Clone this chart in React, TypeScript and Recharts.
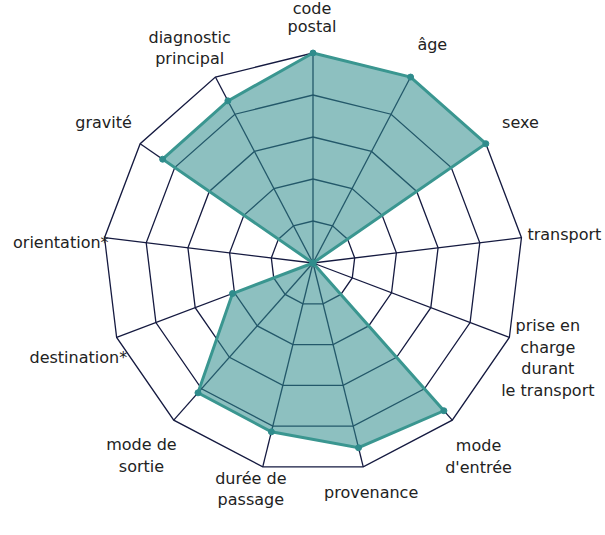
import { PolarAngleAxis, PolarGrid, PolarRadiusAxis, Radar, RadarChart } from "recharts";

const categories = [
  "code postal",
  "âge",
  "sexe",
  "transport",
  "prise en charge durant le transport",
  "mode d'entrée",
  "provenance",
  "durée de passage",
  "mode de sortie",
  "destination*",
  "orientation*",
  "gravité",
  "diagnostic principal",
];

const scores = [5, 5, 5, 0, 0, 4.7, 4.53, 4.14, 4.13, 2.05, 0, 4.35, 4.36];

const radiusTicks = [0, 1, 2, 3, 4, 5];

const data = categories.map((name, i) => ({ name, score: scores[i] }));

// how each label is broken into lines and nudged from its spoke end
const labelLayout: Record<
  string,
  { lines: string[]; anchor: "start" | "middle" | "end"; dx: number; dy: number; lh?: number }
> = {
  "code postal": { lines: ["code", "postal"], anchor: "middle", dx: -1, dy: -37, lh: 18 },
  "âge": { lines: ["âge"], anchor: "middle", dx: 18, dy: -26 },
  "sexe": { lines: ["sexe"], anchor: "middle", dx: 28, dy: -17 },
  "transport": { lines: ["transport"], anchor: "start", dx: -2, dy: -3 },
  "prise en charge durant le transport": {
    lines: ["prise en", "charge", "durant", "le transport"],
    anchor: "middle",
    dx: 31,
    dy: -15,
  },
  "mode d'entrée": { lines: ["mode", "d'entrée"], anchor: "middle", dx: 21, dy: 19 },
  "provenance": { lines: ["provenance"], anchor: "middle", dx: 6, dy: 17 },
  "durée de passage": { lines: ["durée de", "passage"], anchor: "middle", dx: -10, dy: 3 },
  "mode de sortie": { lines: ["mode de", "sortie"], anchor: "middle", dx: -27, dy: 18 },
  "destination*": { lines: ["destination*"], anchor: "end", dx: 18, dy: 17 },
  "orientation*": { lines: ["orientation*"], anchor: "end", dx: 12, dy: 5 },
  "gravité": { lines: ["gravité"], anchor: "middle", dx: -30, dy: -17 },
  "diagnostic principal": { lines: ["diagnostic", "principal"], anchor: "middle", dx: -22, dy: -33 },
};

function AngleTick(props: any) {
  const { x, y, payload } = props;
  const layout = labelLayout[payload.value];
  if (!layout) return null;
  const lh = layout.lh ?? 21.5;
  return (
    <text
      x={x + layout.dx}
      y={y + layout.dy}
      textAnchor={layout.anchor}
      fontFamily="DejaVu Sans"
      fontSize={16}
      fill="#222"
      dominantBaseline="central"
    >
      {layout.lines.map((line, i) => (
        <tspan key={i} x={x + layout.dx} dy={i === 0 ? 0 : lh}>
          {line}
        </tspan>
      ))}
    </text>
  );
}

export default function App() {
  return (
    <div style={{ position: "absolute", left: 0, top: 0, width: 605, height: 535, background: "#fff" }}>
      <RadarChart
        width={605}
        height={535}
        data={data}
        cx={313}
        cy={263}
        outerRadius={210}
        margin={{ top: 0, right: 0, bottom: 0, left: 0 }}
        style={{ overflow: "visible" }}
      >
        <PolarGrid gridType="polygon" stroke="#151a40" strokeWidth={1.3} strokeOpacity={1} />
        <PolarRadiusAxis
          domain={[0, 5]}
          ticks={radiusTicks as any}
          tickCount={6}
          tick={false}
          axisLine={false}
        />
        <PolarAngleAxis dataKey="name" tick={<AngleTick />} tickLine={false} axisLine={false} />
        <Radar
          dataKey="score"
          stroke="#3a9690"
          strokeWidth={3}
          fill="#2f8c8c"
          fillOpacity={0.55}
          dot={{ r: 3, fill: "#2f8c8c", stroke: "#2f8c8c", fillOpacity: 1, strokeWidth: 1 }}
          isAnimationActive={false}
        />
      </RadarChart>
    </div>
  );
}
